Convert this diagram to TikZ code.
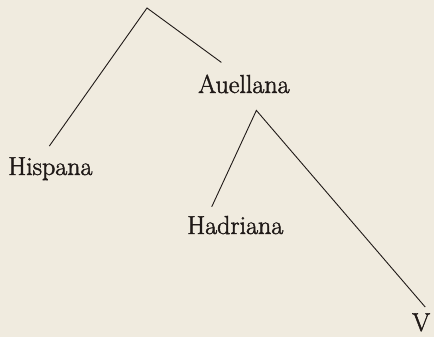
\documentclass[tikz,border=0pt]{standalone}
\usepackage{fontspec}
\usepackage{xcolor}
\usepackage{tikz}

\newfontfamily\printface{Latin Modern Roman}[FakeBold=1.7]
\definecolor{paper}{RGB}{240,235,223}
\definecolor{ink}{RGB}{32,26,24}

\begin{document}
\begin{tikzpicture}[
		x=1pt, y=-1pt,
		% Define styles for the labels and branches
		name_node/.style={
			inner sep=0pt,
			anchor=base west,
			text=ink,
			font=\printface\fontsize{26}{30}\selectfont
		},
		branch_style/.style={
			draw=ink,
			line width=0.9pt
		},
		]
		
		% ----- Background -----
		\fill[paper] (0,0) rectangle (434,337);
		\useasboundingbox (0,0) rectangle (434,337);
		
		% ----- Nodes -----
		\coordinate (stem) at (147,8);
		\node[name_node] (hispana) at (8,175) {Hispana};
		\node[name_node] (auellana) at (198,93) {Auellana};
		\node[name_node] (hadriana) at (187,234) {Hadriana};
		\node[name_node] (vlabel) at (412,331) {V};
		
		% ----- Branches -----
		\draw[branch_style] ([shift={(-1pt,11pt)}]hispana.north) -- (stem) -- ([shift={(-22.5pt,12pt)}]auellana.north);
		\draw[branch_style] ([shift={(-23.5pt,9pt)}]hadriana.north) -- ([shift={(12.5pt,-17pt)}]auellana.south) -- ([shift={(4pt,6pt)}]vlabel.north);
		
	\end{tikzpicture}
\end{document}
